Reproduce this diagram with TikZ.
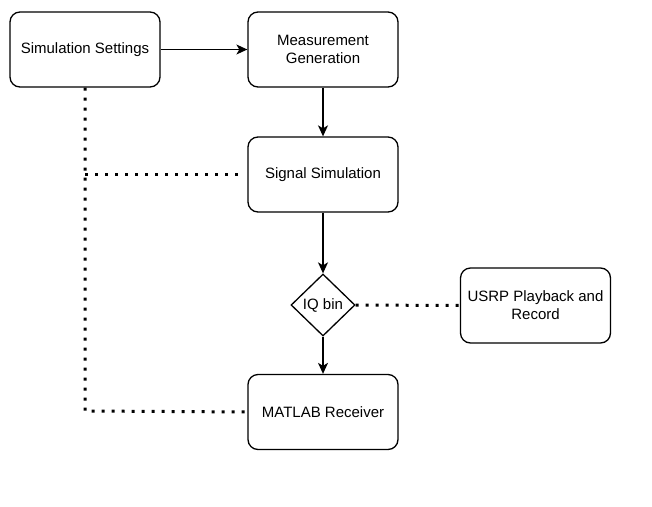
\documentclass[tikz,border=0pt]{standalone}
\usepackage{fontspec}
\setmainfont{Liberation Sans}
\usetikzlibrary{shapes.geometric,arrows.meta}
\begin{document}
\begin{tikzpicture}[x=1pt,y=-1pt,
  box/.style={draw=black,line width=1.3pt,rounded corners=10pt,minimum width=150pt,minimum height=75pt,align=center,font=\fontsize{15}{18}\selectfont,inner sep=0pt},
  dia/.style={draw=black,line width=1.3pt,diamond,minimum width=64pt,minimum height=62pt,inner sep=0pt,aspect=1,font=\fontsize{15}{18}\selectfont},
  arr/.style={line width=1.3pt,-{Stealth[length=11pt,width=10pt,inset=3pt]}},
  dot/.style={line width=3pt,dash pattern=on 3pt off 7pt}
]
\path[use as bounding box,fill=white] (0,0) rectangle (652,506);
\node[box] (ss) at (85,49.5) {Simulation Settings};
\node[box] (mg) at (323,49.5) {Measurement\\Generation};
\node[box] (sig) at (323,174.5) {Signal Simulation};
\node[dia] (iq) at (323,305) {IQ bin};
\node[box] (usrp) at (535.5,305.5) {USRP Playback and\\Record};
\node[box] (mr) at (323,412) {MATLAB Receiver};
\coordinate (c1) at (85,411);
\coordinate (c2) at (85,174.5);
\draw[arr] (ss) -- (mg);
\draw[arr] (mg) -- (sig);
\draw[arr] (sig) -- (iq);
\draw[arr] (iq) -- (mr);
\draw[dot] (ss.south) -- (c1) -- (mr.west);
\draw[dot] (c2) -- ([xshift=-4pt]sig.west);
\draw[dot] (iq.east) -- (usrp.west);
\end{tikzpicture}
\end{document}
